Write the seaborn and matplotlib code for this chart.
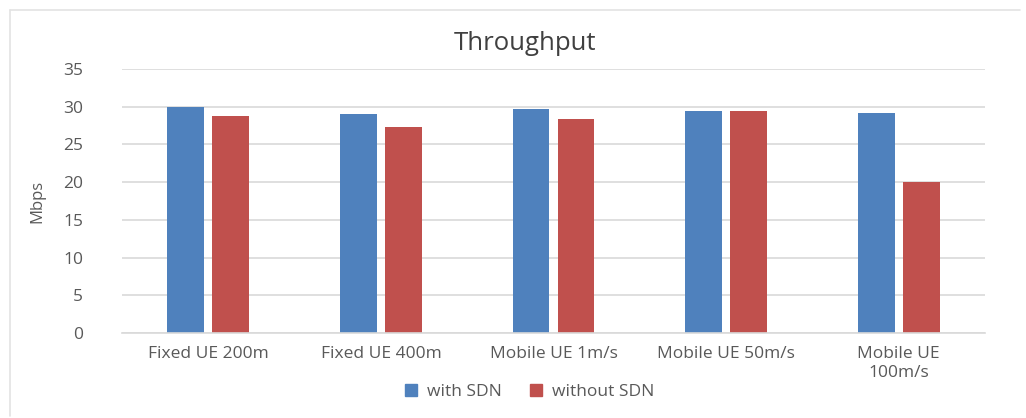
import matplotlib
matplotlib.use("Agg")
import matplotlib.pyplot as plt
import seaborn as sns
import pandas as pd
from matplotlib.lines import Line2D

# Throughput per scenario (Mbps)
categories = ["Fixed UE 200m", "Fixed UE 400m", "Mobile UE 1m/s",
              "Mobile UE 50m/s", "Mobile UE\n100m/s"]
with_sdn = [29.9, 29.1, 29.7, 29.4, 29.2]
without_sdn = [28.8, 27.3, 28.4, 29.4, 20.0]
series_names = ["with SDN", "without SDN"]
y_ticks = [0, 5, 10, 15, 20, 25, 30, 35]

df = pd.DataFrame({
    "Scenario": categories * 2,
    "Mbps": with_sdn + without_sdn,
    "Series": [series_names[0]] * len(categories) + [series_names[1]] * len(categories),
})

sns.set_theme(style="white")
plt.rcParams["font.family"] = ["Open Sans", "DejaVu Sans"]

text_grey = "#595959"
grid_grey = "#D9D9D9"
palette = {"with SDN": "#4F81BD", "without SDN": "#C0504D"}

fig = plt.figure(figsize=(10.26, 4.18), dpi=100)
ax = fig.add_axes([122 / 1026, 1 - 333 / 418, (985 - 122) / 1026, (333 - 69) / 418])

sns.barplot(data=df, x="Scenario", y="Mbps", hue="Series", palette=palette,
            width=0.52, gap=0.18, ax=ax, legend=False, saturation=1, linewidth=0)

ax.set_ylim(0, 35)
ax.set_yticks(y_ticks)
ax.set_xlim(-0.5, len(categories) - 0.5)
ax.yaxis.grid(True, color=grid_grey, linewidth=1.2)
ax.set_axisbelow(True)
for side in ["top", "right", "left"]:
    ax.spines[side].set_visible(False)
ax.spines["bottom"].set_color(grid_grey)
ax.spines["bottom"].set_linewidth(1.2)
ax.tick_params(axis="both", length=0, colors=text_grey, labelsize=12.5)
ax.tick_params(axis="y", pad=28)
ax.tick_params(axis="x", pad=9)
for lbl in ax.get_xticklabels():
    lbl.set_linespacing(1.3)
ax.set_xlabel("")
ax.set_ylabel("Mbps", color=text_grey, fontsize=12)
ax.yaxis.set_label_coords((45 - 122) / 863, 0.50)

fig.text(525 / 1026, 1 - 43 / 418, "Throughput", ha="center", va="center",
         fontsize=18.5, color="#404040")

handles = [Line2D([], [], marker="s", linestyle="none", markersize=8,
                  markerfacecolor=palette[n], markeredgecolor=palette[n])
           for n in series_names]
fig.legend(handles, series_names, loc="center", bbox_to_anchor=(524 / 1026, 1 - 392 / 418),
           ncol=2, frameon=False, fontsize=12.5, labelcolor=text_grey,
           handletextpad=-0.1, columnspacing=1.0)

# chart frame edges
fig.add_artist(Line2D([10 / 1026, 10 / 1026], [2 / 418, 1 - 10 / 418],
                      transform=fig.transFigure, color="#E3E3E3", linewidth=1.2))
fig.add_artist(Line2D([10 / 1026, 1020 / 1026], [1 - 10 / 418, 1 - 10 / 418],
                      transform=fig.transFigure, color="#E3E3E3", linewidth=1.2))

fig.savefig("out.png", dpi=100)
